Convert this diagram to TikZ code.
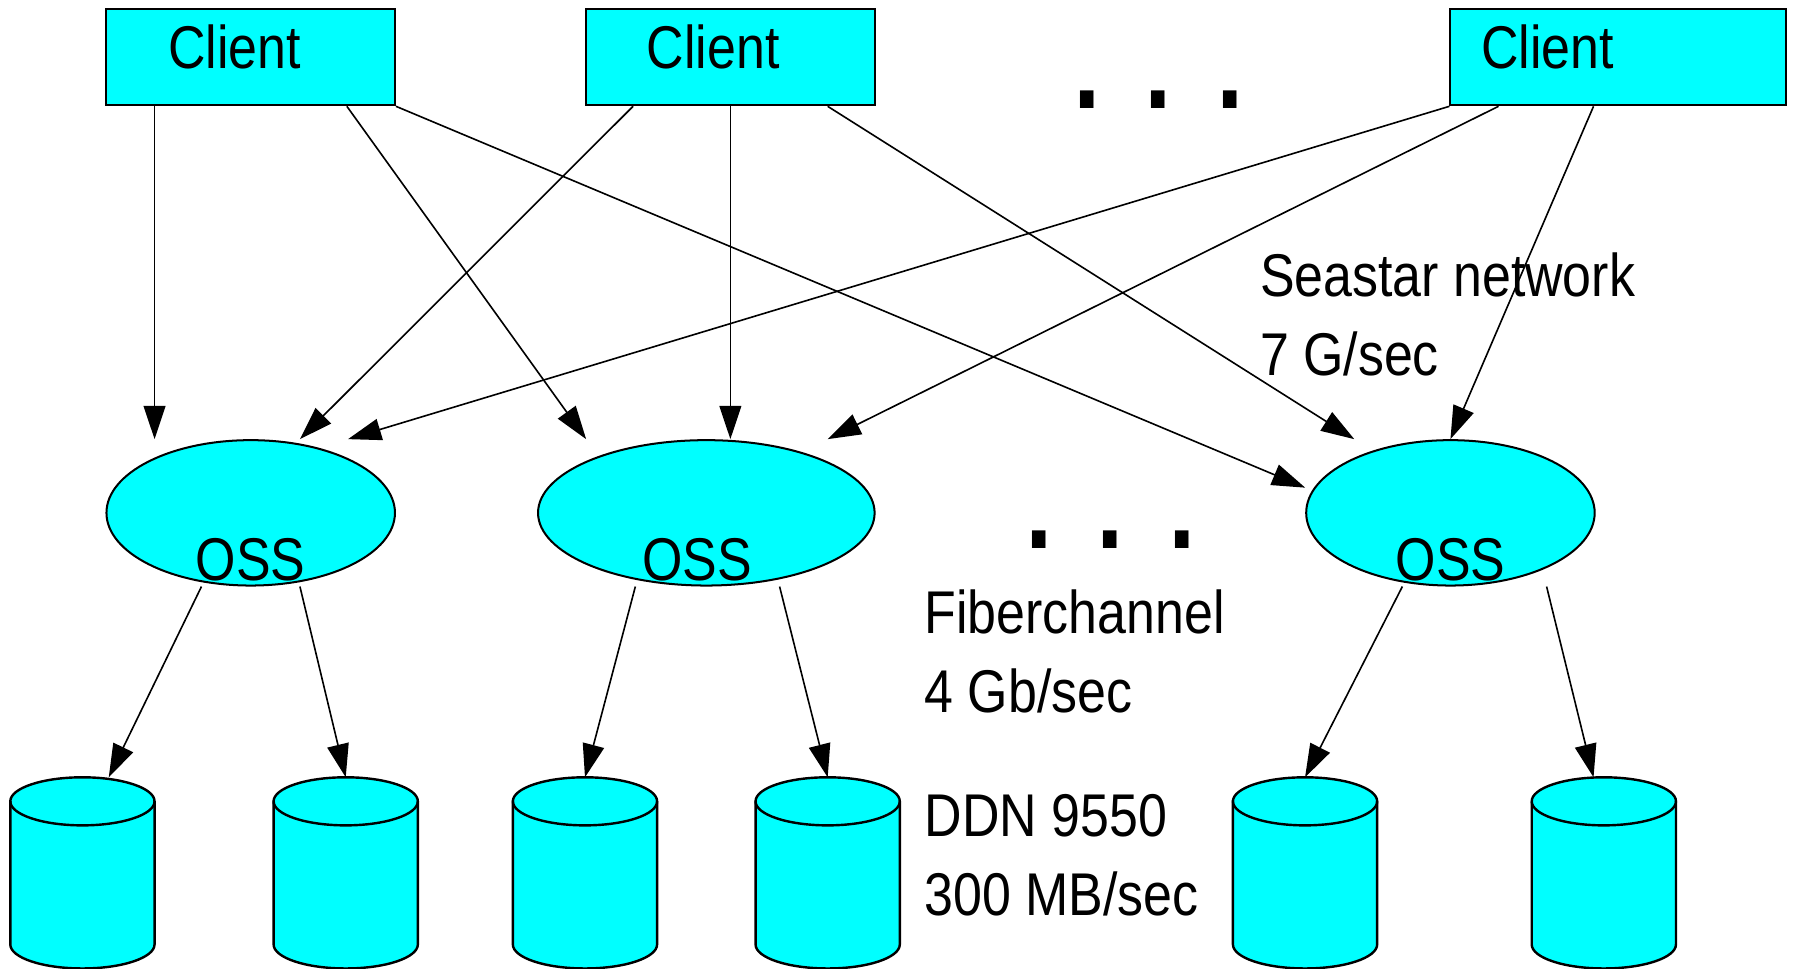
\documentclass[tikz,border=0pt]{standalone}
\usepackage{fontspec}
\setmainfont{Liberation Sans}[FakeStretch=0.86]
\usetikzlibrary{arrows.meta,calc,shapes.geometric}
\definecolor{aqua}{RGB}{0,255,255}

\begin{document}
\begin{tikzpicture}[>={Triangle[length=0.29cm,width=0.19cm]}, line width=0.4pt,
    client/.style={draw, fill=aqua, line width=0.5pt, minimum height=0.84cm, inner sep=0},
    oss/.style={ellipse, draw, fill=aqua, line width=0.5pt, minimum height=1.27cm, inner sep=0},
    disk/.style={draw, fill=aqua, line width=0.6pt},
    lbl/.style={font=\fontsize{15pt}{19.6pt}\selectfont, inner sep=0, anchor=base},
    note/.style={lbl, anchor=base west, align=left},
    dots/.style={font=\fontsize{41pt}{41pt}\selectfont, inner sep=0, anchor=base}]
    \useasboundingbox (0,0) rectangle (15.68,8.46);

    % 客户端
    \node[client, minimum width=2.52cm] (c1) at (2.19,7.96) {};
    \node[client, minimum width=2.52cm] (c2) at (6.38,7.96) {};
    \node[client, minimum width=2.93cm] (c3) at (14.135,7.96) {};
    \node[lbl] (c1t) at (2.05,7.86) {Client};
    \node[lbl] (c2t) at (6.23,7.86) {Client};
    \node[lbl] (c3t) at (13.52,7.86) {Client};
    \node[dots] (dtop) at (10.12,7.51) {.\hspace{0.28cm}.\hspace{0.28cm}.};

    % OSS 服务器
    \node[oss, minimum width=2.52cm] (o1) at (2.19,3.98) {};
    \node[oss, minimum width=2.94cm] (o2) at (6.17,3.98) {};
    \node[oss, minimum width=2.52cm] (o3) at (12.67,3.98) {};
    \node[lbl] (o1t) at (2.19,3.39) {OSS};
    \node[lbl] (o2t) at (6.09,3.39) {OSS};
    \node[lbl] (o3t) at (12.67,3.39) {OSS};
    \node[dots] (dmid) at (9.70,3.67) {.\hspace{0.28cm}.\hspace{0.28cm}.};

    % 磁盘阵列（圆柱）
    \foreach \x/\n in {0.72/d1, 3.02/d2, 5.11/d3, 7.23/d4, 11.40/d5, 14.01/d6} {
        \coordinate (\n) at (\x,1.67);
        \filldraw[disk] (\x-0.63,1.46) -- (\x-0.63,0.21)
            arc[start angle=180, end angle=360, x radius=0.63, y radius=0.21]
            -- (\x+0.63,1.46)
            arc[start angle=0, end angle=180, x radius=0.63, y radius=0.21] -- cycle;
        \draw[disk, fill=none] (\x-0.63,1.46)
            arc[start angle=180, end angle=360, x radius=0.63, y radius=0.21];
    }

    % 网络连线
    \draw[->] ($(c1.south)+(-0.84,0)$) -- ($(o1.north)+(-0.84,0)$);
    \draw[->] ($(c1.south)+(0.84,0)$) -- ($(o2.north)+(-1.05,0)$);
    \draw[->] (c1.south east) -- ($(o3.west)+(0,0.22)$);
    \draw[->] ($(c2.south)+(-0.85,0)$) -- ($(o1.north)+(0.43,0)$);
    \draw[->] (c2.south) -- ($(o2.north)+(0.21,0)$);
    \draw[->] ($(c2.south)+(0.85,0)$) -- ($(o3.north)+(-0.84,0)$);
    \draw[->] (c3.south west) -- ($(o1.north)+(0.85,0)$);
    \draw[->] ($(c3.south)+(-1.045,0)$) -- ($(o2.north)+(1.06,0)$);
    \draw[->] ($(c3.south)+(-0.215,0)$) -- (o3.north);

    % 光纤连线
    \draw[->] ($(o1.south)+(-0.43,0)$) -- ($(d1)+(0.23,0)$);
    \draw[->] ($(o1.south)+(0.43,0)$) -- (d2);
    \draw[->] ($(o2.south)+(-0.62,0)$) -- (d3);
    \draw[->] ($(o2.south)+(0.64,0)$) -- (d4);
    \draw[->] ($(o3.south)+(-0.42,0)$) -- (d5);
    \draw[->] ($(o3.south)+(0.84,0)$) -- ($(d6)+(-0.09,0)$);

    % 说明文字
    \node[note] (seastar) at (11.00,5.18) {Seastar network\\7 G/sec};
    \node[note] (fiber) at (8.07,2.24) {Fiberchannel\\4 Gb/sec};
    \node[note] (ddn) at (8.07,0.46) {DDN 9550\\300 MB/sec};
\end{tikzpicture}
\end{document}
